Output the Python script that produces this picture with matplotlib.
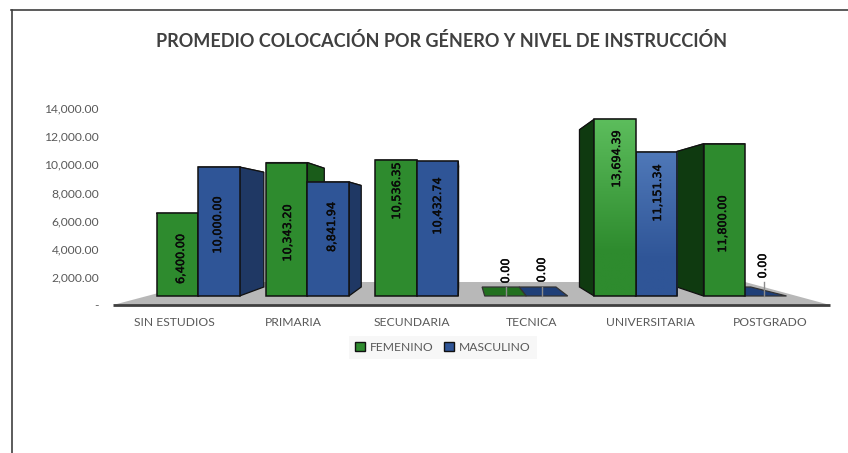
import matplotlib
matplotlib.use("Agg")
import matplotlib.pyplot as plt
import matplotlib.patheffects as pe
import numpy as np
from matplotlib.lines import Line2D
from matplotlib.patches import Patch, Polygon

plt.rcParams['font.family'] = ['Lato', 'DejaVu Sans']

categories = ["SIN ESTUDIOS", "PRIMARIA", "SECUNDARIA", "TECNICA", "UNIVERSITARIA", "POSTGRADO"]
femenino = [6400.00, 10343.20, 10536.35, 0.00, 13694.39, 11800.00]
masculino = [10000.00, 8841.94, 10432.74, 0.00, 11151.34, 0.00]
y_ticks = [0, 2000, 4000, 6000, 8000, 10000, 12000, 14000]
y_tick_labels = ["-", "2,000.00", "4,000.00", "6,000.00", "8,000.00", "10,000.00", "12,000.00", "14,000.00"]

W, H = 848, 453
GREEN = '#2e8b2e'
GREEN_TOP = '#5cbd5c'
BLUE = '#2f5597'
BLUE_TOP = '#4f78b8'
GREEN_SIDE = '#0f3a10'
GREEN_SIDE_LEFT = '#1a5c1a'
BLUE_SIDE = '#1f3864'
GREEN_TILE = '#22701f'
BLUE_TILE = '#1f3f78'

# pixel layout of the picture
BAR_X0, BAR_STEP = 198.0, 109.4
BAR_BASE = 296.0
PX_PER_UNIT = 0.0129
BAR_W = 41.5 / BAR_STEP
DEPTH = 0.89
VANISH = (461 - BAR_X0) / BAR_STEP
BACK_BASE = 9 / PX_PER_UNIT
LIGHT_CATEGORY = 4  # only these two bars have a visible gradient

fig = plt.figure(figsize=(W / 100, H / 100), dpi=100, facecolor='white')

# front axis: ticks and category names
ax_t = fig.add_axes([0, 0, 1, 1])
ax_t.set_xlim(-174 / 119.2, (W - 174) / 119.2)
tick_px = 197 / 14000
ax_t.set_ylim(-(H - 305) / tick_px, 305 / tick_px)
ax_t.set_xticks(range(len(categories)), categories)
ax_t.set_yticks(y_ticks, y_tick_labels)
for s in ax_t.spines.values():
    s.set_visible(False)
ax_t.tick_params(length=0, colors='#595959', labelsize=8.7)
ax_t.tick_params(axis='y', direction='in', pad=-99 * 0.72)
ax_t.tick_params(axis='x', direction='in', pad=-(H - 323) * 0.72)
for lab in ax_t.get_yticklabels():
    lab.set_ha('right')
for lab in ax_t.get_xticklabels():
    lab.set_va('center')

# bars live on their own scale, the chart has perspective
ax = fig.add_axes([0, 0, 1, 1], facecolor='none')
ax.set_xlim(-BAR_X0 / BAR_STEP, (W - BAR_X0) / BAR_STEP)
ax.set_ylim(-(H - BAR_BASE) / PX_PER_UNIT, BAR_BASE / PX_PER_UNIT)
ax.axis('off')


def px(x, y):
    return (x - BAR_X0) / BAR_STEP, (BAR_BASE - y) / PX_PER_UNIT


def back(x, v):
    return VANISH + (x - VANISH) * DEPTH, BACK_BASE + v * DEPTH


# floor
floor = [px(113, 305), px(830, 305), px(745, 282), px(200, 282)]
ax.add_patch(Polygon(floor, closed=True, facecolor='#b8b8b8', edgecolor='none', zorder=1))
ax.plot(*zip(px(113, 305), px(830, 305)), color='#404040', lw=2, zorder=1.5, solid_capstyle='butt')

# one list of bars, the ones far from the vanishing line go first
bars = []
for i, v in enumerate(femenino):
    side = GREEN_SIDE_LEFT if i < LIGHT_CATEGORY else GREEN_SIDE
    bars.append((i - BAR_W, v, GREEN, GREEN_TOP, side, GREEN_TILE, i))
for i, v in enumerate(masculino):
    bars.append((i, v, BLUE, BLUE_TOP, BLUE_SIDE, BLUE_TILE, i))
bars.sort(key=lambda b: -abs(b[0] + BAR_W / 2 - VANISH))

z = 2
for x0, v, col, col_top, side, tile, cat in bars:
    x1 = x0 + BAR_W
    top = [(x0, v), (x1, v), back(x1, v), back(x0, v)]
    ax.add_patch(Polygon(top, closed=True, facecolor=tile if v == 0 else side,
                         edgecolor='#333333', lw=0.9, zorder=z))
    z += 1
    if v == 0:
        continue
    if x1 < VANISH:
        xs = x1
    elif x0 > VANISH:
        xs = x0
    else:
        xs = None
    if xs is not None:
        face = [(xs, 0), (xs, v), back(xs, v), back(xs, 0)]
        ax.add_patch(Polygon(face, closed=True, facecolor=side, edgecolor='#111111', lw=0.9, zorder=z))
        z += 1
    b = ax.bar(x0, v, width=BAR_W, align='edge', color=col, edgecolor='#111111', lw=1.1, zorder=z)[0]
    z += 1
    if cat == LIGHT_CATEGORY:
        c0 = np.array(matplotlib.colors.to_rgb(col))
        c1 = np.array(matplotlib.colors.to_rgb(col_top))
        t = np.clip((np.linspace(1, 0, 64) - 0.25) / 0.75, 0, 1)[:, None]
        img = (c0 + (c1 - c0) * t)[:, None, :]
        im = ax.imshow(img, extent=(x0, x1, 0, v), aspect='auto', zorder=z - 1.5)
        im.set_clip_path(b)
        b.set_facecolor('none')
        b.set_zorder(z)
        z += 1

ax.set_xlim(-BAR_X0 / BAR_STEP, (W - BAR_X0) / BAR_STEP)
ax.set_ylim(-(H - BAR_BASE) / PX_PER_UNIT, BAR_BASE / PX_PER_UNIT)

# leader lines of the empty bars
for x, y_end in [(506, 287), (542, 287), (764, 282)]:
    ax.plot(*zip(px(x, 296), px(x, y_end)), color='#8c8c8c', lw=1, zorder=z)
z += 1

# value labels, placed by hand as in the original
label_pos = [(181, 259), (288, 233), (397, 191), (506, 271), (617, 159), (723, 224),
             (218, 225), (332, 227), (438, 206), (542, 270), (658, 193), (763, 266)]
for v, (x, y) in zip(femenino + masculino, label_pos):
    lx, ly = px(x, y)
    ax.text(lx, ly, f"{v:,.2f}", rotation=90, ha='center', va='center', fontsize=8.1,
            family='DejaVu Sans', color='#0a0a0a', zorder=z,
            path_effects=[pe.withStroke(linewidth=0.35, foreground='#0a0a0a')])

fig.text(442 / W, 1 - 41 / H, "PROMEDIO COLOCACIÓN POR GÉNERO Y NIVEL DE INSTRUCCIÓN",
         ha='center', va='center', fontsize=13, fontweight='bold', color='#404040')

handles = [Patch(facecolor=GREEN, edgecolor='#111111', label='FEMENINO'),
           Patch(facecolor=BLUE, edgecolor='#111111', label='MASCULINO')]
leg = fig.legend(handles=handles, ncol=2, loc='center', bbox_to_anchor=(443 / W, 1 - 347.5 / H),
                 frameon=True, facecolor='#f7f7f7', edgecolor='none', framealpha=1, fancybox=False,
                 fontsize=8.7, labelcolor='#595959', handlelength=0.8, handleheight=0.8,
                 handletextpad=0.4, columnspacing=0.9, borderpad=0.5)

# the frame of the pasted picture
fig.add_artist(Line2D([11 / W, 1], [1 - 10 / H, 1 - 10 / H], color='#404040', lw=1.2))
fig.add_artist(Line2D([11.5 / W, 11.5 / W], [0, 1 - 10 / H], color='#404040', lw=1.2))

fig.savefig('out.png', dpi=100)
